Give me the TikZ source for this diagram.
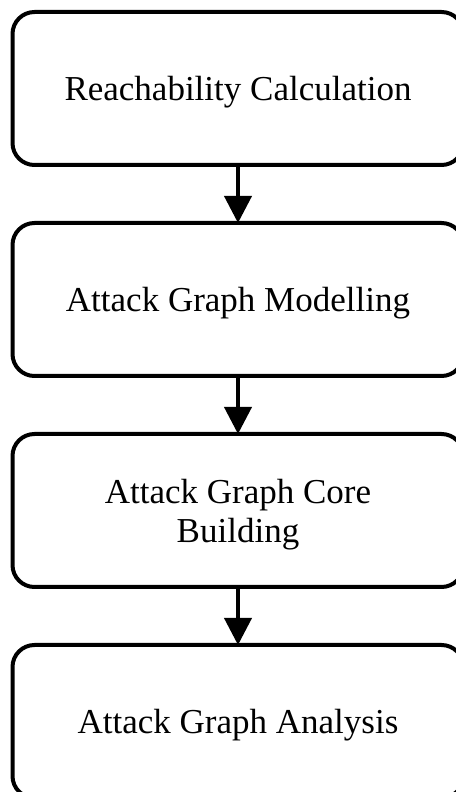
\documentclass[tikz,border=0pt]{standalone}
\usepackage{fontspec}
\setmainfont{Liberation Serif}
\usepackage{tikz}
\usetikzlibrary{positioning,arrows.meta}

\begin{document}
\begin{tikzpicture}[node distance=58bp, every node/.style={font=\fontsize{35bp}{39bp}\selectfont},
    stage/.style={draw, line width=4bp, rounded corners=22bp, outer sep=0pt,
        minimum width=451bp, minimum height=153bp, text depth=0pt, align=center},
    flow/.style={line width=4bp, -{Triangle[width=27bp,length=27bp]}}]
    \useasboundingbox (0,0) rectangle (456bp,792bp);

    % Stage 1: Reachability
    \node[stage] (reach) at (238bp,703.5bp) {Reachability Calculation};

    % Stage 2: Modelling
    \node[stage, below=of reach] (model) {Attack Graph Modelling};

    % Stage 3: Core building
    \node[stage, below=of model] (core) {Attack Graph Core\\Building};

    % Stage 4: Analysis
    \node[stage, below=of core] (analysis) {Attack Graph Analysis};

    % Arrows
    \draw[flow] (reach) -- (model);
    \draw[flow] (model) -- (core);
    \draw[flow] (core) -- (analysis);
\end{tikzpicture}
\end{document}
